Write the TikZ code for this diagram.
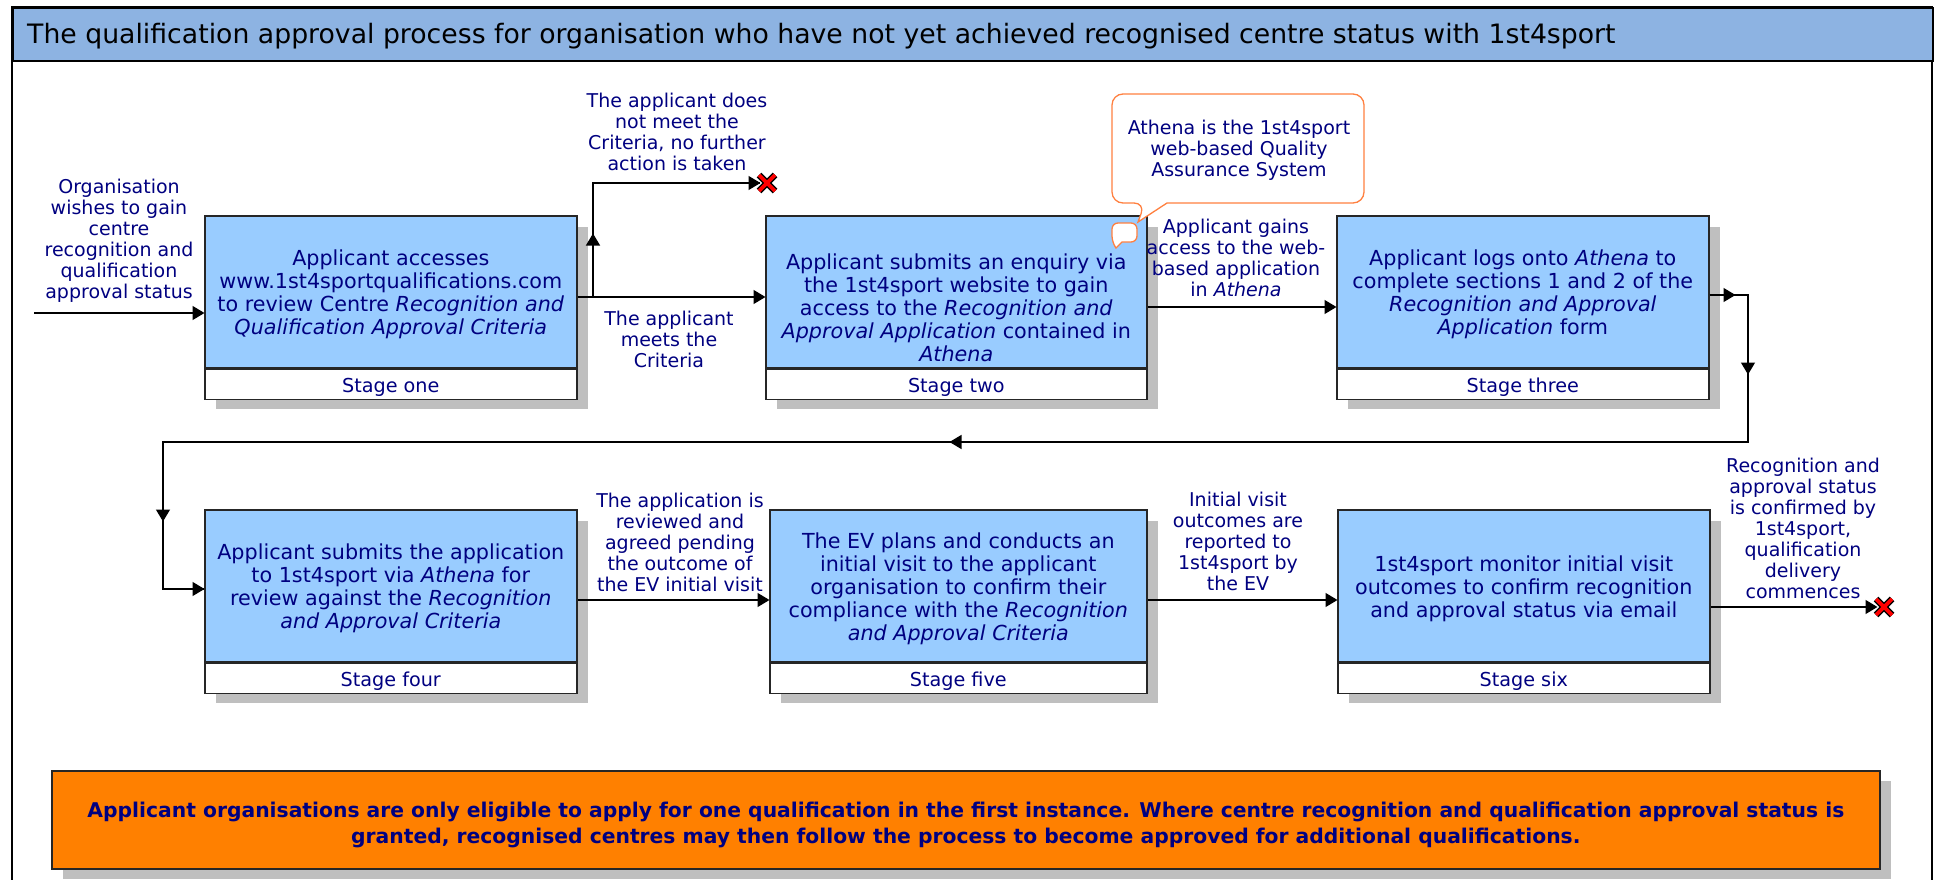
\documentclass[tikz,border=0pt]{standalone}
\usepackage{fontspec}
\setmainfont{DejaVu Sans}
\usetikzlibrary{positioning,arrows.meta,shadows}
\definecolor{stageblue}{HTML}{99CCFF}
\definecolor{titleblue}{HTML}{8DB3E2}
\definecolor{inktext}{HTML}{000080}
\definecolor{notebead}{HTML}{FF8040}
\definecolor{shadowgrey}{HTML}{BFBFBF}
\definecolor{bannerorange}{HTML}{FF8000}
\tikzset{
  castshadow/.style = {general shadow={shadow xshift=11pt, shadow yshift=-#1, fill=shadowgrey}},
  stagebox/.style = {draw=black!85, line width=1.6pt, fill=stageblue, castshadow=11.5pt, text=inktext,
    minimum width=372pt, minimum height=152pt, inner sep=0pt, align=center,
    font=\fontsize{20.7}{23}\selectfont},
  stagename/.style = {draw=black!85, line width=1.6pt, fill=white, castshadow=10pt, text=inktext,
    minimum width=372pt, minimum height=30pt, inner sep=0pt,
    font=\fontsize{19.2}{21}\selectfont, execute at begin node={\rule{0pt}{19.6pt}}},
  flowtext/.style = {text=inktext, align=center, inner sep=0pt,
    font=\fontsize{19}{21}\selectfont},
  flow/.style = {draw=black, line width=1.4pt},
  flowtip/.style = {flow, -{Triangle[length=12pt,width=14pt]}, shorten >=-0.5pt},
  notepath/.style = {draw=notebead, line width=1.3pt, fill=white}
}
% tall first line, sets the text a little below the middle of its box
\newcommand{\topstrut}[1][21pt]{\rule{0pt}{#1}}
% red cross with a black edge, at the dead end of a flow
\newcommand{\deadend}[2]{
  \coordinate (#1) at (#2);
  \draw[black, line width=6.4pt] ([shift={(-8,-8)}]#1) -- ([shift={(8,8)}]#1)
    ([shift={(-8,8)}]#1) -- ([shift={(8,-8)}]#1);
  \draw[red, line width=3.8pt] ([shift={(-8,-8)}]#1) -- ([shift={(8,8)}]#1)
    ([shift={(-8,8)}]#1) -- ([shift={(8,-8)}]#1);
}
\begin{document}
\begin{tikzpicture}[x=1pt, y=-1pt]
  \useasboundingbox (0,0) rectangle (1939,880);
  % frame and heading
  \draw[black, line width=1.8pt] (12,880) -- (12,7) -- (1932,7) -- (1932,880);
  \node (heading) [draw=black, line width=1.8pt, fill=titleblue, anchor=north west, minimum width=1920pt,
    minimum height=53pt, inner sep=0pt] at (12,7) {};
  \node (headingtext) [anchor=west, inner sep=0pt, font=\fontsize{26.7}{30}\selectfont] at (27,36)
    {The qualification approval process for organisation who have not yet achieved recognised centre status with 1st4sport};

  % first row
  \node (stageone) [stagebox, anchor=north west] at (204,215)
    {\topstrut Applicant accesses\\www.1st4sportqualifications.com\\to review Centre \textit{Recognition and}\\\textit{Qualification Approval Criteria}};
  \node (nameone) [stagename, below=0pt of stageone] {Stage one};
  \node (stagetwo) [stagebox, anchor=north west, minimum width=381pt] at (765,215)
    {\mbox{}\\[24pt]Applicant submits an enquiry via\\the 1st4sport website to gain\\access to the \textit{Recognition and}\\\textit{Approval Application} contained in\\\textit{Athena}};
  \node (nametwo) [stagename, minimum width=381pt, below=0pt of stagetwo] {Stage two};
  \node (stagethree) [stagebox, anchor=north west] at (1336,215)
    {\topstrut Applicant logs onto \textit{Athena} to\\complete sections 1 and 2 of the\\\textit{Recognition and Approval}\\\textit{Application} form};
  \node (namethree) [stagename, below=0pt of stagethree] {Stage three};

  % second row
  \node (stagefour) [stagebox, anchor=north west] at (204,509)
    {\topstrut Applicant submits the application\\to 1st4sport via \textit{Athena} for\\review against the \textit{Recognition}\\\textit{and Approval Criteria}};
  \node (namefour) [stagename, below=0pt of stagefour] {Stage four};
  \node (stagefive) [stagebox, anchor=north west, minimum width=377pt] at (769,509)
    {\topstrut The EV plans and conducts an\\initial visit to the applicant\\organisation to confirm their\\compliance with the \textit{Recognition}\\\textit{and Approval Criteria}};
  \node (namefive) [stagename, minimum width=377pt, below=0pt of stagefive] {Stage five};
  \node (stagesix) [stagebox, anchor=north west] at (1337,509)
    {\topstrut 1st4sport monitor initial visit\\outcomes to confirm recognition\\and approval status via email};
  \node (namesix) [stagename, below=0pt of stagesix] {Stage six};

  % banner
  \node (banner) [draw=black!85, line width=1.6pt, fill=bannerorange, castshadow=10pt, text=inktext,
    anchor=north west, minimum width=1828pt, minimum height=98pt, inner sep=0pt, align=center,
    font=\fontsize{20.3}{26}\selectfont\bfseries] at (51,770)
    {\topstrut[25.4pt]Applicant organisations are only eligible to apply for one qualification in the first instance. Where centre recognition and qualification approval status is\\granted, recognised centres may then follow the process to become approved for additional qualifications.};

  % labels on the flows
  \node (wishtext) [flowtext] at (119,241) {Organisation\\wishes to gain\\centre\\recognition and\\qualification\\approval status};
  \node (failtext) [flowtext] at (677,132) {The applicant does\\not meet the\\Criteria, no further\\action is taken};
  \node (meettext) [flowtext] at (669,339) {The applicant\\meets the\\Criteria};
  \node (accesstext) [flowtext] at (1236,258) {Applicant gains\\access to the web-\\based application\\in \textit{Athena}};
  \node (reviewtext) [flowtext] at (680,542) {The application is\\reviewed and\\agreed pending\\the outcome of\\the EV initial visit};
  \node (visittext) [flowtext] at (1238,541) {Initial visit\\outcomes are\\reported to\\1st4sport by\\the EV};
  \node (confirmtext) [flowtext] at (1803,528) {Recognition and\\approval status\\is confirmed by\\1st4sport,\\qualification\\delivery\\commences};

  % flows
  \coordinate (entry) at (34,313);
  \coordinate (rowone) at (576,297);
  \coordinate (branch) at (593,297);
  \coordinate (branchup) at (593,183);
  \coordinate (failend) at (760,183);
  \coordinate (rowtwo) at (1146,307);
  \coordinate (turnright) at (1748,295);
  \coordinate (turnback) at (1748,442);
  \coordinate (turnleft) at (163,442);
  \coordinate (turndown) at (163,589);
  \coordinate (rowfour) at (576,600);
  \coordinate (rowsix) at (1709,607);
  \draw[flowtip] (entry) -- (entry -| stageone.west);
  \draw[flowtip] (stageone.east |- rowone) -- (stagetwo.west |- rowone);
  \draw[flow] (branch) -- (branchup) -- (failend);
  \draw[flowtip] (branch) -- (593,234);
  \draw[flowtip] (branchup) -- (failend);
  \draw[flowtip] (stagetwo.east |- rowtwo) -- (stagethree.west |- rowtwo);
  \draw[flow, line width=1.2pt] (stagethree.east |- turnright) -- (turnright) -- (turnback) -- (turnleft) -- (turndown) -- (stagefour.west |- turndown);
  \draw[flowtip] (stagethree.east |- turnright) -- (1735,295);
  \draw[flowtip] (turnright) -- (1748,374);
  \draw[flowtip] (turnback) -- (950,442);
  \draw[flowtip] (turnleft) -- (163,521);
  \draw[flowtip] (turndown) -- (stagefour.west |- turndown);
  \draw[flowtip] (stagefour.east |- rowfour) -- (stagefive.west |- rowfour);
  \draw[flowtip] (stagefive.east |- rowfour) -- (stagesix.west |- rowfour);
  \draw[flowtip] (stagesix.east |- rowsix) -- (1877,607);
  \deadend{failstop}{767,183}
  \deadend{donestop}{1884,607}

  % note on Athena
  \draw[notepath, rounded corners=11pt] (1167,203) -- (1364,203) -- (1364,94) -- (1112,94) -- (1112,203) -- (1145,203)
    [sharp corners] -- (1138,222) -- cycle;
  \draw[notepath, rounded corners=6pt] (1122,242) -- (1137,242) -- (1137,223) -- (1112,223) -- (1112,242)
    [sharp corners] -- (1116,248) -- cycle;
  \node (athenanote) [flowtext] at (1239,150) {Athena is the 1st4sport\\web-based Quality\\Assurance System};
\end{tikzpicture}
\end{document}
